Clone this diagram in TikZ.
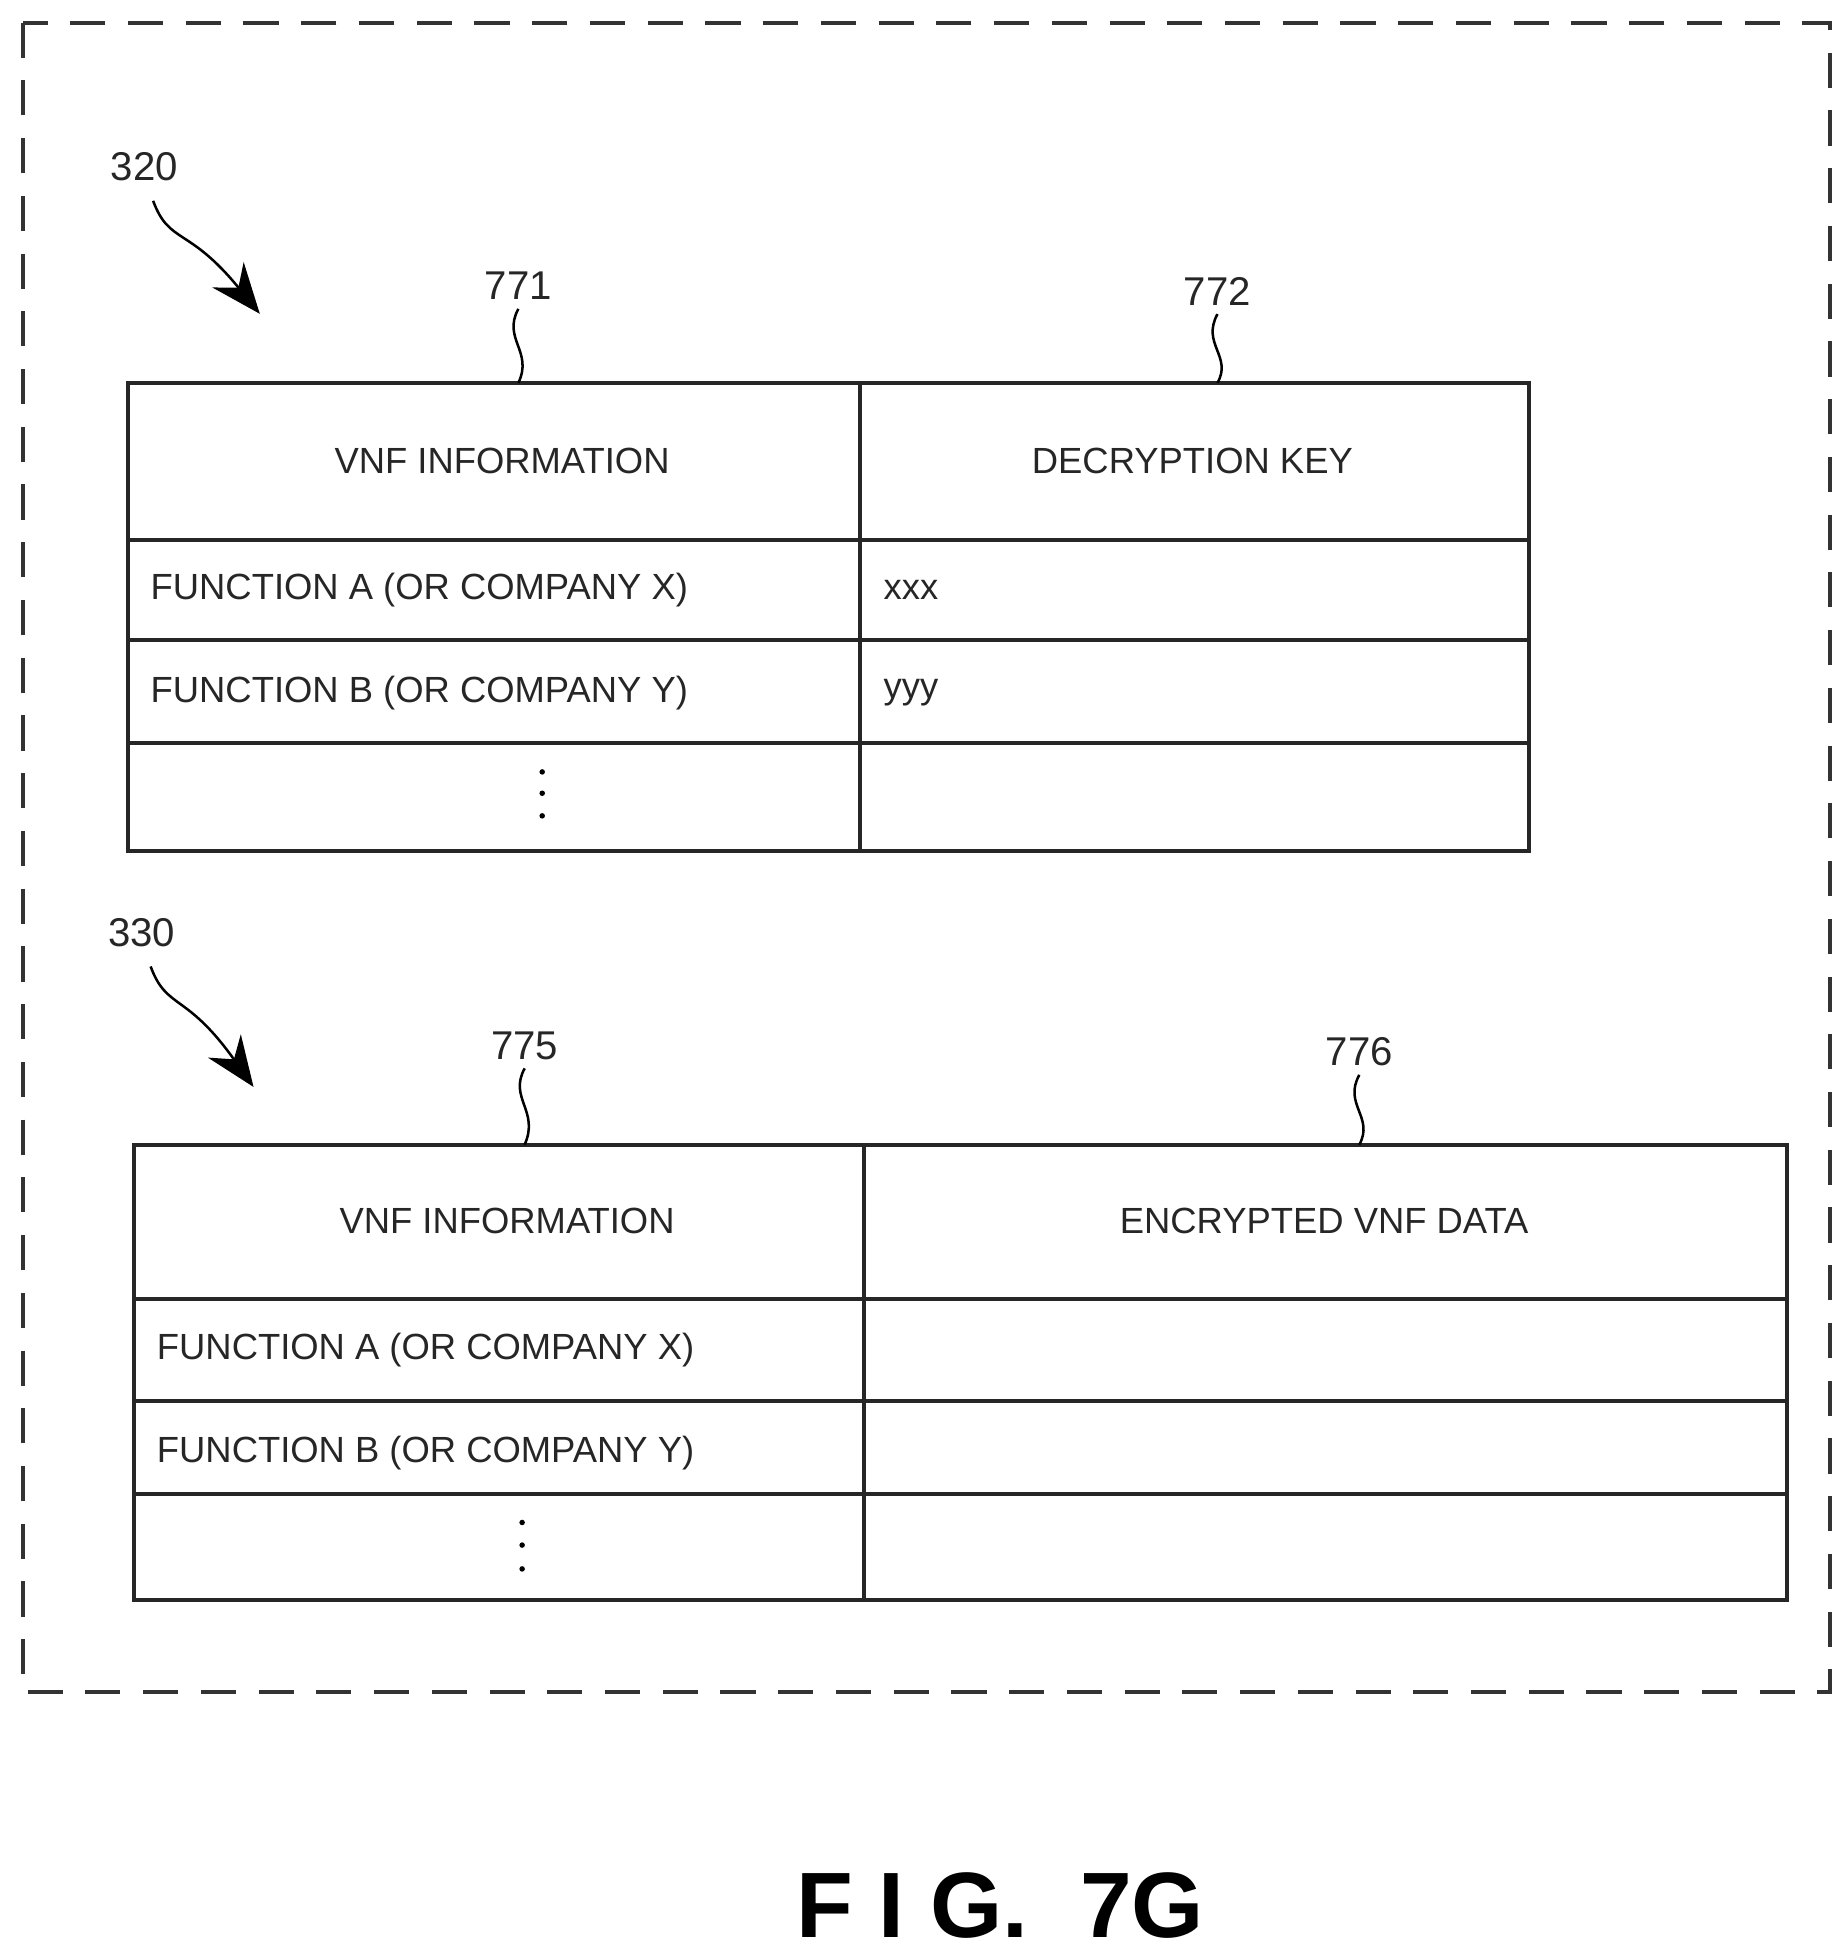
\documentclass[tikz,border=0pt]{standalone}
\usepackage{fontspec}
\setmainfont{Liberation Sans}
\usetikzlibrary{arrows.meta}
\begin{document}
\begin{tikzpicture}[x=0.5pt,y=-0.5pt,
  tbl/.style={line width=1.6pt,draw=black!85},
  txt/.style={font=\fontsize{14.5}{18}\selectfont,text=black!85},
  lbl/.style={font=\fontsize{16}{19}\selectfont,text=black!85},
  lead/.style={line width=1pt},
  big/.style={line width=1pt,-{Stealth[length=20pt,width=16pt]}}]
\useasboundingbox (0,0) rectangle (1470,1560);
\draw[line width=1.6pt,dash pattern=on 14pt off 9pt,black!80] (18,18) rectangle (1458,1348);
% table 1
\draw[tbl] (102,305) rectangle (1218,678);
\draw[tbl] (685,305) -- (685,678);
\foreach \y in {430,510,592} \draw[tbl] (102,\y) -- (1218,\y);
\node[txt] (h1) at (400,367) {VNF INFORMATION};
\node[txt] (h2) at (950,367) {DECRYPTION KEY};
\node[txt,anchor=west] (a1) at (113,470) {FUNCTION A (OR COMPANY X)};
\node[txt,anchor=west] (b1) at (113,552) {FUNCTION B (OR COMPANY Y)};
\node[txt,anchor=west] (x1) at (697,470) {xxx};
\node[txt,anchor=west] (y1) at (697,552) {yyy};
\foreach \y in {615,632,650} \fill (432,\y) circle (2.2);
% table 2
\draw[tbl] (107,912) rectangle (1424,1275);
\draw[tbl] (688,912) -- (688,1275);
\foreach \y in {1035,1116,1190} \draw[tbl] (107,\y) -- (1424,\y);
\node[txt] (h3) at (404,973) {VNF INFORMATION};
\node[txt] (h4) at (1055,973) {ENCRYPTED VNF DATA};
\node[txt,anchor=west] (a2) at (118,1076) {FUNCTION A (OR COMPANY X)};
\node[txt,anchor=west] (b2) at (118,1158) {FUNCTION B (OR COMPANY Y)};
\foreach \y in {1213,1231,1250} \fill (416,\y) circle (2.2);
% labels
\node[lbl] (l320) at (115,133) {320};
\coordinate (t320) at (207,250);
\draw[big] (122,160) .. controls (135,195) and (150,180) .. (t320);
\node[lbl] (l330) at (113,743) {330};
\coordinate (t330) at (202,866);
\draw[big] (120,770) .. controls (133,805) and (148,790) .. (t330);
\node[lbl] (l771) at (413,228) {771};
\draw[lead] (l771.south) .. controls (400,270) and (425,280) .. (413,305);
\node[lbl] (l772) at (970,232) {772};
\draw[lead] (l772.south) .. controls (957,274) and (982,284) .. (970,305);
\node[lbl] (l775) at (418,833) {775};
\draw[lead] (l775.south) .. controls (405,875) and (430,885) .. (418,912);
\node[lbl] (l776) at (1083,838) {776};
\draw[lead] (l776.south) .. controls (1070,880) and (1095,890) .. (1083,912);
\node[font=\fontsize{37}{40}\selectfont\bfseries] (fig) at (797,1518) {F I G.\ \ 7G};
\end{tikzpicture}
\end{document}
